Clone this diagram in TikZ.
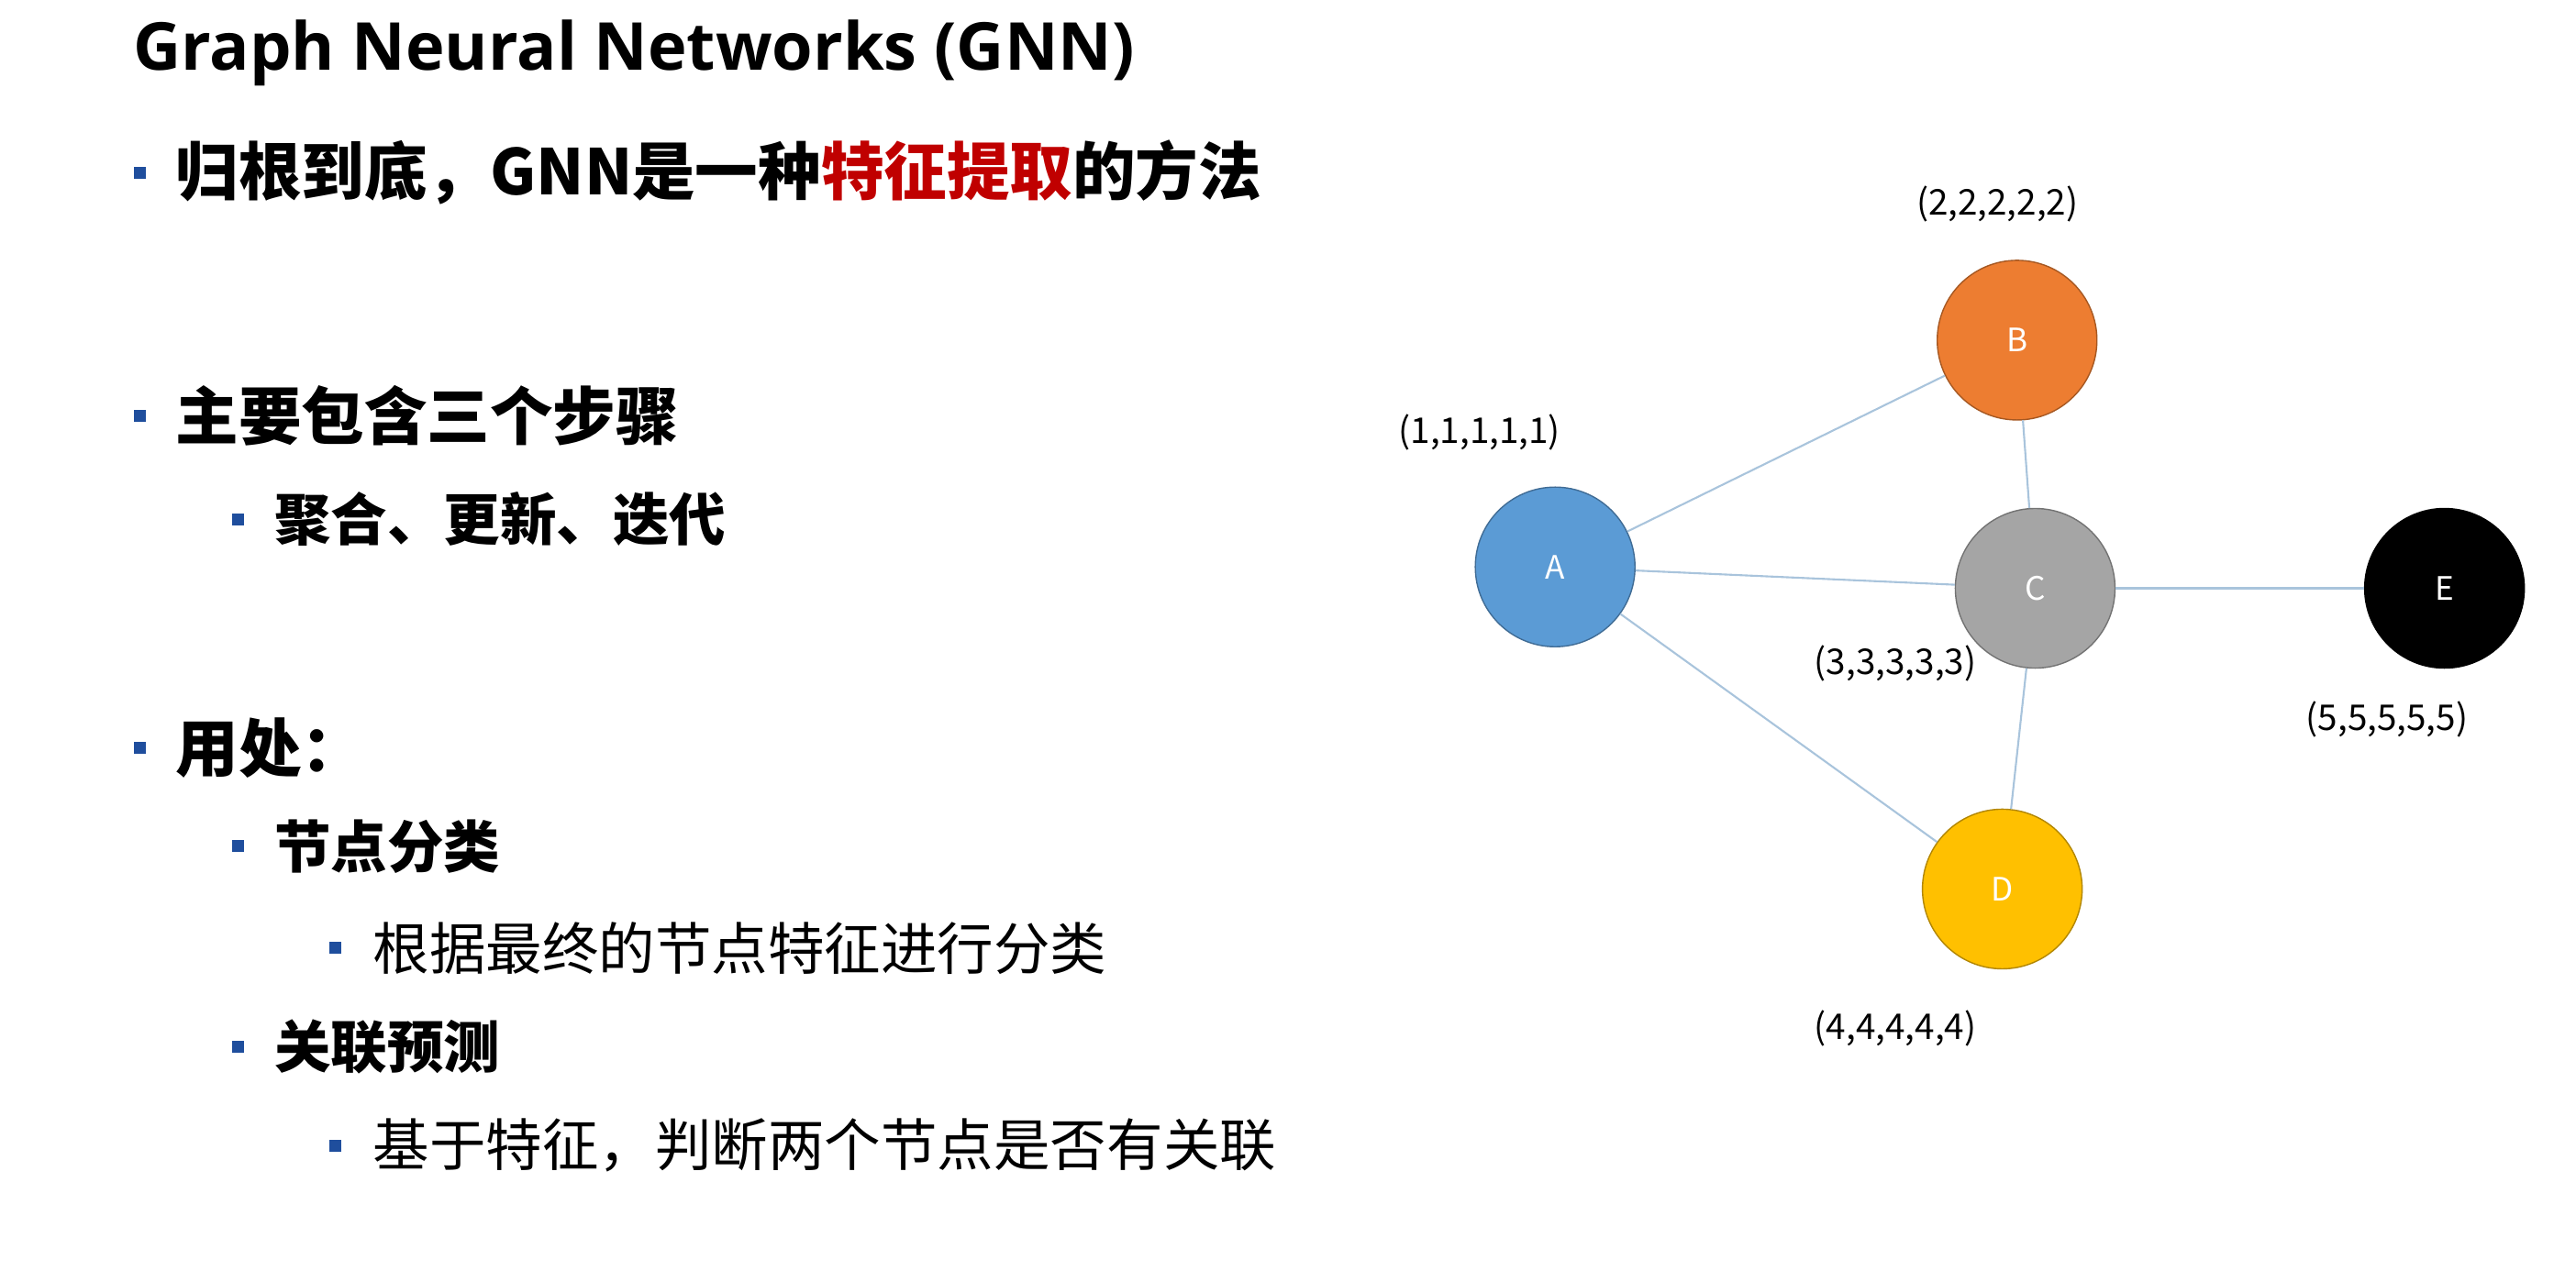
\documentclass[tikz,border=0pt]{standalone}
\usepackage{fontspec}
\setmainfont{Noto Sans CJK SC}
\newfontfamily\titlefont{Open Sans}
\definecolor{nodeA}{HTML}{5B9BD5}
\definecolor{nodeB}{HTML}{ED7D31}
\definecolor{nodeC}{HTML}{A5A5A5}
\definecolor{nodeD}{HTML}{FFC000}
\definecolor{edgecol}{HTML}{A9C4DC}
\definecolor{bulletcol}{HTML}{1F4E9D}
\definecolor{hilite}{HTML}{C00000}
\tikzset{
  gnode/.style={circle, minimum size=1.74cm, inner sep=0pt, draw=#1!70!black, fill=#1, text=white, font=\fontsize{10}{11}\selectfont},
  vec/.style={font=\fontsize{11}{13}\selectfont},
  edge/.style={edgecol, line width=0.6pt},
  bul/.style={fill=bulletcol, minimum size=0.13cm, inner sep=0pt},
  lvA/.style={anchor=west, font=\fontsize{19.5}{22}\selectfont\bfseries},
  lvB/.style={anchor=west, font=\fontsize{17.5}{20}\selectfont\bfseries},
  lvC/.style={anchor=west, font=\fontsize{17.5}{20}\selectfont},
}
\begin{document}
\begin{tikzpicture}[x=0.01792cm, y=-0.01792cm]
  \useasboundingbox (0,0) rectangle (1567,780);
  % text column
  \node[anchor=west, font=\titlefont\fontsize{20.5}{24}\selectfont\bfseries] (title) at (74,32) {Graph Neural Networks (GNN)};
  \node[bul] (b1) at (85,105) {};
  \node[lvA] (t1) at (100,105) {归根到底，GNN是一种\textcolor{hilite}{特征提取}的方法};
  \node[bul] (b2) at (85,253) {};
  \node[lvA] (t2) at (100,253) {主要包含三个步骤};
  \node[bul] (b3) at (145,316) {};
  \node[lvB] (t3) at (160,316) {聚合、更新、迭代};
  \node[bul] (b4) at (85,455) {};
  \node[lvA] (t4) at (100,455) {用处：};
  \node[bul] (b5) at (145,515) {};
  \node[lvB] (t5) at (160,515) {节点分类};
  \node[bul] (b6) at (204,577) {};
  \node[lvC] (t6) at (220,577) {根据最终的节点特征进行分类};
  \node[bul] (b7) at (145,637) {};
  \node[lvB] (t7) at (160,637) {关联预测};
  \node[bul] (b8) at (204,697) {};
  \node[lvC] (t8) at (220,697) {基于特征，判断两个节点是否有关联};
  % graph
  \node[gnode=nodeA] (A) at (946,345) {A};
  \node[gnode=nodeB] (B) at (1227,207) {B};
  \node[gnode=nodeC] (C) at (1238,358) {C};
  \node[gnode=nodeD] (D) at (1218,541) {D};
  \node[gnode=black, draw=black] (E) at (1487,358) {E};
  \draw[edge] (A) -- (B);
  \draw[edge] (A) -- (C);
  \draw[edge] (A) -- (D);
  \draw[edge] (B) -- (C);
  \draw[edge] (C) -- (D);
  \draw[edge] (C) -- (E);
  \node[vec] (vA) at (900,263) {(1,1,1,1,1)};
  \node[vec] (vB) at (1215,124) {(2,2,2,2,2)};
  \node[vec] (vC) at (1153,404) {(3,3,3,3,3)};
  \node[vec] (vD) at (1153,626) {(4,4,4,4,4)};
  \node[vec] (vE) at (1452,438) {(5,5,5,5,5)};
\end{tikzpicture}
\end{document}
